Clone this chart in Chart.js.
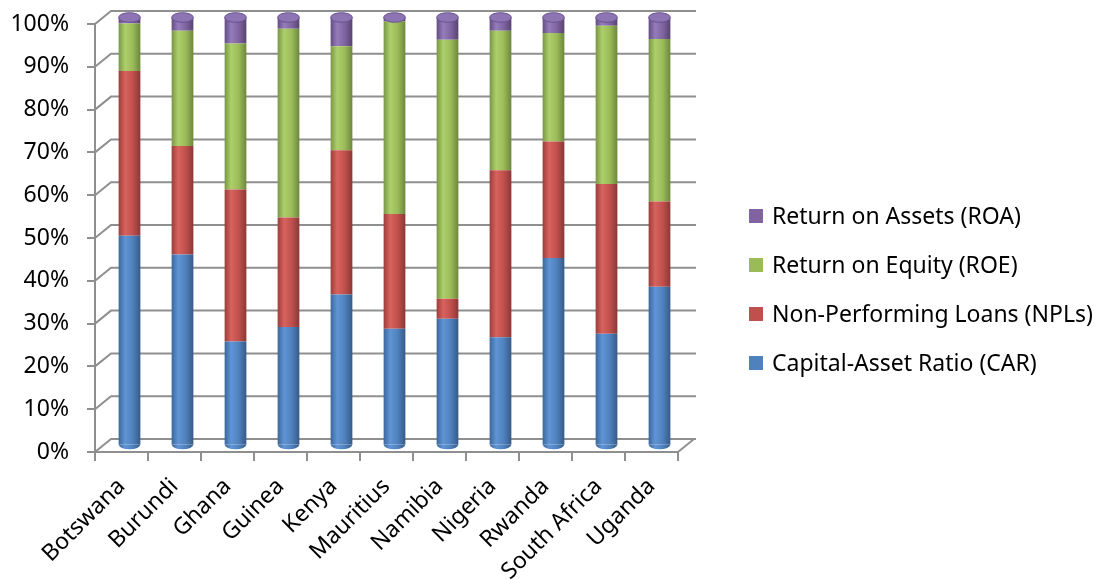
<!DOCTYPE html>
<html>
<head>
<meta charset="utf-8">
<script src="https://cdn.jsdelivr.net/npm/chart.js@4.4.1/dist/chart.umd.min.js"></script>
<style>
  html, body { margin: 0; padding: 0; background: #ffffff; }
  #wrap { width: 1102px; height: 579px; position: relative; }
</style>
</head>
<body>
<div id="wrap"><canvas id="chart" width="1102" height="579"></canvas></div>
<script>
// Banking soundness indicators, share of the stacked total per country (%)
const categories = ['Botswana', 'Burundi', 'Ghana', 'Guinea', 'Kenya', 'Mauritius',
                    'Namibia', 'Nigeria', 'Rwanda', 'South Africa', 'Uganda'];
const seriesNames = ['Capital-Asset Ratio (CAR)', 'Non-Performing Loans (NPLs)',
                     'Return on Equity (ROE)', 'Return on Assets (ROA)'];
const carValues = [49.0, 44.6, 24.3, 27.7, 35.3, 27.3, 29.6, 25.3, 43.8, 26.1, 37.1];
const nplValues = [38.5, 25.4, 35.5, 25.6, 33.7, 26.8,  4.7, 39.0, 27.2, 35.0, 19.9];
const roeValues = [11.1, 26.9, 34.1, 44.1, 24.3, 45.0, 60.5, 32.6, 25.4, 37.0, 38.0];
const roaValues = [ 1.4,  3.1,  6.1,  2.6,  6.7,  0.9,  5.2,  3.1,  3.6,  1.9,  5.0];
const percentTicks = [0, 10, 20, 30, 40, 50, 60, 70, 80, 90, 100];

const FONT = "'Noto Sans', 'Open Sans', sans-serif";
const FONT_SIZE = 23;
const GRID = '#8f8f8f';
const BAR_FRACTION = 0.41;
const DEPTH = { dx: 16, dy: -13 };   // offset of the back wall
const TOP_SPACE = 24;
const LEGEND_SPACE = 424;            // right-hand room kept for the key
const LEGEND_GAP = 71;               // from plot edge to the key swatches
const LEGEND_ROW = 49;
const SWATCH = 14;

// edge-dark / highlight / body / shadow tones for the cylinder look
const palette = {
  car: { base: '#4F81BD', stops: ['#3b679c', '#6094d4', '#4f81bd', '#365a87'] },
  npl: { base: '#C0504D', stops: ['#9c3d3a', '#d8625e', '#c0504d', '#8a3836'] },
  roe: { base: '#9BBB59', stops: ['#7a9645', '#adcf6b', '#9bbb59', '#6c873d'] },
  roa: { base: '#8064A2', stops: ['#634d83', '#957cba', '#8064a2', '#57436f'] }
};
const tones = [palette.car, palette.npl, palette.roe, palette.roa];
const seriesValues = [carValues, nplValues, roeValues, roaValues];

function fillStops(g, tone) {
  g.addColorStop(0, tone.stops[0]);
  g.addColorStop(0.3, tone.stops[1]);
  g.addColorStop(0.65, tone.stops[2]);
  g.addColorStop(1, tone.stops[3]);
  return g;
}

function cylinderFill(tone) {
  return (ctx) => {
    if (ctx.type !== 'data') return tone.base;
    const chart = ctx.chart;
    const xs = chart.scales && chart.scales.x;
    if (!xs || !isFinite(xs.width) || xs.width <= 0) return tone.base;
    const cx = xs.getPixelForValue(ctx.dataIndex);
    const w = (xs.width / categories.length) * BAR_FRACTION;
    return fillStops(chart.ctx.createLinearGradient(cx - w / 2, 0, cx + w / 2, 0), tone);
  };
}

// back wall, side connectors and the depth shift for the cylinders
const depthFrame = {
  id: 'depthFrame',
  beforeDatasetsDraw(chart) {
    const { ctx, chartArea: a, scales: { y } } = chart;
    ctx.save();
    ctx.strokeStyle = GRID;
    ctx.lineWidth = 2;
    ctx.beginPath();
    y.ticks.forEach((t) => {
      const py = y.getPixelForValue(t.value);
      ctx.moveTo(a.left, py);
      ctx.lineTo(a.left + DEPTH.dx, py + DEPTH.dy);
      ctx.lineTo(a.right + DEPTH.dx + 2, py + DEPTH.dy);
    });
    ctx.moveTo(a.right, a.bottom);
    ctx.lineTo(a.right + DEPTH.dx, a.bottom + DEPTH.dy);
    ctx.stroke();
    ctx.restore();
    ctx.save();
    ctx.translate(DEPTH.dx / 2, DEPTH.dy / 2);
  },
  afterDatasetsDraw(chart) {
    const { ctx } = chart;
    const n = chart.data.datasets.length;
    const bottomMeta = chart.getDatasetMeta(0);
    const topMeta = chart.getDatasetMeta(n - 1);
    const ry = 4.8;
    bottomMeta.data.forEach((el) => {
      ctx.beginPath();
      ctx.ellipse(el.x, el.base, el.width / 2, ry, 0, 0, Math.PI);
      ctx.fillStyle = fillStops(ctx.createLinearGradient(el.x - el.width / 2, 0, el.x + el.width / 2, 0), palette.car);
      ctx.fill();
    });
    topMeta.data.forEach((el) => {
      ctx.beginPath();
      ctx.ellipse(el.x, el.y, el.width / 2, ry, 0, 0, Math.PI * 2);
      ctx.fillStyle = '#8d74b2';
      ctx.fill();
      ctx.lineWidth = 1;
      ctx.strokeStyle = '#6a5290';
      ctx.stroke();
    });
    ctx.restore();
  }
};

// series key on the right, last series first
const sideKey = {
  id: 'sideKey',
  afterDraw(chart) {
    const { ctx, chartArea: a } = chart;
    const order = chart.data.datasets.map((ds, i) => i).reverse();
    const x0 = a.right + LEGEND_GAP;
    const midY = chart.height / 2;
    ctx.save();
    ctx.font = FONT_SIZE + 'px ' + FONT;
    ctx.textBaseline = 'middle';
    ctx.textAlign = 'left';
    order.forEach((di, i) => {
      const cy = midY + (i - (order.length - 1) / 2) * LEGEND_ROW;
      ctx.fillStyle = tones[di].base;
      ctx.fillRect(x0, cy - SWATCH / 2, SWATCH, SWATCH);
      ctx.fillStyle = '#000000';
      ctx.fillText(chart.data.datasets[di].label, x0 + SWATCH + 9, cy + 1);
    });
    ctx.restore();
  }
};

new Chart(document.getElementById('chart'), {
  type: 'bar',
  data: {
    labels: categories,
    datasets: seriesNames.map((name, i) => ({
      label: name,
      data: seriesValues[i],
      backgroundColor: cylinderFill(tones[i]),
      borderWidth: 0,
      barPercentage: BAR_FRACTION,
      categoryPercentage: 1.0
    }))
  },
  options: {
    responsive: false,
    animation: false,
    layout: { padding: { top: 0, right: LEGEND_SPACE, bottom: 0, left: 0 } },
    plugins: {
      tooltip: { enabled: false },
      legend: { display: false }
    },
    scales: {
      x: {
        stacked: true,
        ticks: {
          color: '#000000',
          font: { family: FONT, size: FONT_SIZE },
          minRotation: 45,
          maxRotation: 45,
          autoSkip: false,
          padding: 12
        },
        grid: { drawOnChartArea: false, drawTicks: true, tickLength: 9, color: GRID, lineWidth: 2, offset: true },
        border: { display: true, color: GRID, width: 2 },
        afterFit: (s) => { s.height = 127; }
      },
      y: {
        stacked: true,
        min: 0,
        max: 100,
        afterBuildTicks: (s) => { s.ticks = percentTicks.map((v) => ({ value: v })); },
        ticks: {
          color: '#000000',
          font: { family: FONT, size: FONT_SIZE },
          padding: 18,
          callback: (v) => v + '%'
        },
        grid: { drawOnChartArea: false, drawTicks: true, tickLength: 8, color: GRID, lineWidth: 2 },
        border: { display: true, color: GRID, width: 2 },
        afterFit: (s) => { s.width = 95; s.paddingTop = 0; s.paddingBottom = 0; }
      },
      topSpace: {
        type: 'linear',
        position: 'top',
        display: true,
        ticks: { display: false },
        grid: { display: false },
        border: { display: false },
        afterFit: (s) => { s.height = TOP_SPACE; }
      }
    }
  },
  plugins: [depthFrame, sideKey]
});
</script>
</body>
</html>
